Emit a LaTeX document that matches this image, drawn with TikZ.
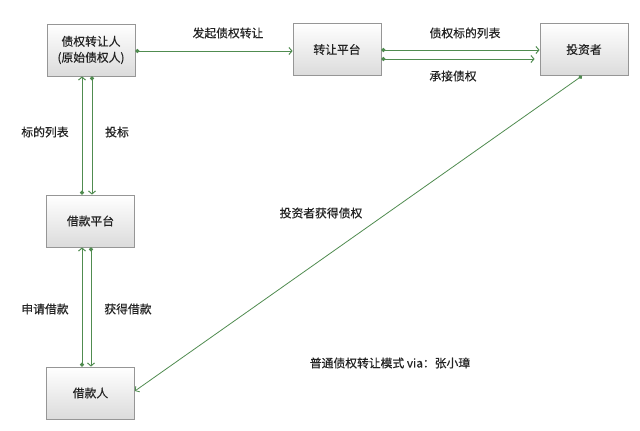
\documentclass[tikz,border=0pt]{standalone}
\usepackage{fontspec}
\newfontfamily\cjk[FakeBold=0.4]{Noto Sans CJK SC}
\usetikzlibrary{arrows.meta}
\definecolor{lineg}{RGB}{80,140,80}
\definecolor{txt}{RGB}{35,35,35}
\definecolor{boxb}{RGB}{150,150,150}
\begin{document}
\begin{tikzpicture}[x=1pt,y=-1pt,
  font=\cjk\fontsize{11.8}{16}\selectfont,
  box/.style={draw=boxb, line width=0.8pt, top color=white, bottom color=black!14,
    minimum width=88pt, minimum height=52pt, inner sep=0pt, align=center, text=txt},
  conn/.style={draw=lineg, line width=1pt,
    {Circle[length=4pt]}-{Straight Barb[length=3pt,width=7pt]}},
  lbl/.style={text=txt, inner sep=0pt}]
\useasboundingbox[fill=white] (0,0) rectangle (640,431);

\node[box] (a) at (91,50) {债权转让人\\(原始债权人)};
\node[box] (b) at (337,49.5) {转让平台};
\node[box] (c) at (584,49.5) {投资者};
\node[box] (d) at (90.5,221) {借款平台};
\node[box] (e) at (90.5,393) {借款人};

\draw[conn] (a.east |- 0,51) -- (b.west |- 0,51);
\draw[conn] (b.east |- 0,50) -- (c.west |- 0,50);
\draw[conn] (b.east |- 0,59) -- ([xshift=-5pt]c.west |- 0,59);
\draw[conn] (82,0 |- d.north) -- (82,0 |- a.south);
\draw[conn] (92,0 |- a.south) -- (92,0 |- d.north);
\draw[conn] (82,0 |- e.north) -- (82,0 |- d.south);
\draw[conn] (91,0 |- d.south) -- (91,0 |- e.north);
\draw[conn, line width=0.8pt] (582,0 |- c.south) -- (e.east |- 0,391);

\node[lbl] (l1) at (228,33) {发起债权转让};
\node[lbl] (l2) at (465,33) {债权标的列表};
\node[lbl] (l3) at (453,76) {承接债权};
\node[lbl] (l4) at (45,132) {标的列表};
\node[lbl] (l5) at (117,132) {投标};
\node[lbl] (l6) at (45,309) {申请借款};
\node[lbl] (l7) at (128,309) {获得借款};
\node[lbl] (l8) at (321,213) {投资者获得债权};
\node[lbl] (l9) at (390,363) {普通债权转让模式 via：张小璋};
\end{tikzpicture}
\end{document}
